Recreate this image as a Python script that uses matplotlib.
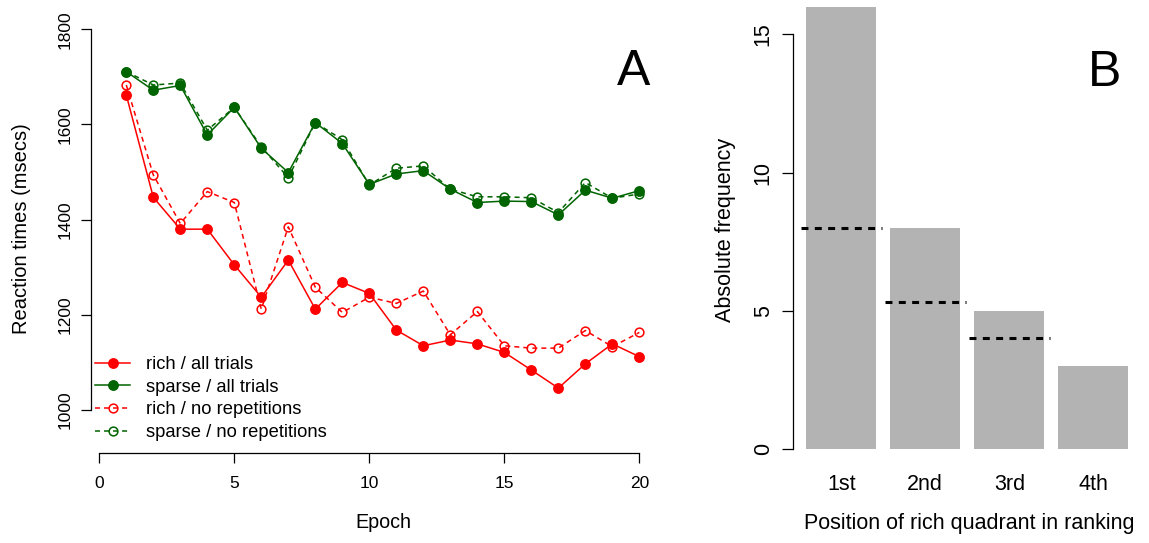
import matplotlib
matplotlib.use("Agg")
import matplotlib.pyplot as plt
import numpy as np

plt.rcParams['font.family'] = ['Liberation Sans', 'DejaVu Sans']
plt.rcParams['lines.scale_dashes'] = False

# panel A: mean reaction times per epoch
epochs = list(range(1, 21))
rich_all = [1662, 1447, 1380, 1380, 1305, 1237, 1315, 1212, 1268, 1245,
            1168, 1135, 1147, 1139, 1121, 1084, 1046, 1097, 1139, 1112]
sparse_all = [1711, 1672, 1682, 1578, 1636, 1550, 1499, 1604, 1560, 1474,
              1496, 1503, 1464, 1436, 1439, 1438, 1410, 1462, 1445, 1461]
rich_norep = [1683, 1494, 1392, 1459, 1436, 1212, 1385, 1258, 1205, 1237,
              1224, 1250, 1158, 1207, 1135, 1130, 1130, 1167, 1133, 1163]
sparse_norep = [1711, 1683, 1687, 1588, 1636, 1553, 1488, 1604, 1568, 1473,
                1508, 1513, 1464, 1448, 1448, 1446, 1415, 1478, 1445, 1454]
series_labels = ['rich / all trials', 'sparse / all trials',
                 'rich / no repetitions', 'sparse / no repetitions']

# panel B: position of rich quadrant
positions = ['1st', '2nd', '3rd', '4th']
counts = [16, 8, 5, 3]
expected = [8, 5.33, 4]

RED = '#FF0000'
GREEN = '#006400'
W, H = 1149, 543

fig = plt.figure(figsize=(W / 100, H / 100), dpi=100)

# ---- panel A
ax = fig.add_axes([90.7 / W, 1 - 453.3 / H, (675 - 90.7) / W, 448.6 / H])
solid = dict(lw=1.1, marker='o', ms=6.8)
dashed = dict(lw=1.1, marker='o', ms=6.3, mfc='none', mew=1.1, dashes=(3.6, 2.9))
ax.plot(epochs, rich_all, color=RED, label=series_labels[0], **solid)
ax.plot(epochs, sparse_all, color=GREEN, label=series_labels[1], **solid)
ax.plot(epochs, rich_norep, color=RED, label=series_labels[2], **dashed)
ax.plot(epochs, sparse_norep, color=GREEN, label=series_labels[3], **dashed)

ax.set_xlim(-0.318, 21.32)
ax.set_ylim(909, 1851.7)
ax.set_xticks([0, 5, 10, 15, 20])
ax.set_yticks([1000, 1200, 1400, 1600, 1800])
for s in ['top', 'right']:
    ax.spines[s].set_visible(False)
ax.spines['left'].set_bounds(1000, 1800)
ax.spines['bottom'].set_bounds(0, 20)
for s in ['left', 'bottom']:
    ax.spines[s].set_linewidth(0.9)
ax.tick_params(length=7.2, width=0.9)
ax.tick_params(axis='x', pad=9.5)
ax.tick_params(axis='y', pad=6.0, labelrotation=90)
for lab in ax.get_xticklabels():
    lab.set_fontsize(12.5)
for lab in ax.get_yticklabels():
    lab.set_fontsize(12.5)
    lab.set_va('center')

ax.legend(loc='upper left', bbox_to_anchor=(95 / W, 1 - 356 / H),
          bbox_transform=fig.transFigure, frameon=False, fontsize=13.2,
          borderpad=0, borderaxespad=0, handlelength=1.91,
          handletextpad=0.85, labelspacing=0.31)

fig.text(383 / W, 1 - 523 / H, 'Epoch', ha='center', va='center', fontsize=14.2)
fig.text(22 / W, 1 - 229 / H, 'Reaction times (msecs)', ha='center', va='center',
         rotation=90, fontsize=14.5)
fig.text(634 / W, 1 - 85 / H, 'A', ha='center', va='baseline', fontsize=36)

# ---- panel B
bx = fig.add_axes([793.4 / W, 1 - 466.7 / H, 347.8 / W, 477.7 / H])
xpos = 0.7 + 1.2 * np.arange(len(counts))
bx.bar(xpos, counts, width=1.0, color='#B3B3B3', edgecolor='none')
for xc, ev in zip(xpos, expected):
    bx.plot([xc - 0.58, xc + 0.58], [ev, ev], color='black', lw=2.2,
            dashes=(5.0, 4.6))
bx.set_xlim(0.016, 4.984)
bx.set_ylim(-0.64, 16.64)
bx.set_xticks(xpos, positions)
bx.set_yticks([0, 5, 10, 15])
for s in ['top', 'right', 'bottom']:
    bx.spines[s].set_visible(False)
bx.spines['left'].set_bounds(0, 15)
bx.spines['left'].set_linewidth(0.9)
bx.tick_params(axis='x', length=0, pad=5.3, labelsize=15.5)
bx.tick_params(axis='y', length=8, width=0.9, pad=6.1, labelsize=15.5,
               labelrotation=90)
for lab in bx.get_yticklabels():
    lab.set_va('center')

fig.text(969.7 / W, 1 - 523.3 / H, 'Position of rich quadrant in ranking',
         ha='center', va='center', fontsize=15.5)
fig.text(725 / W, 1 - 230 / H, 'Absolute frequency', ha='center', va='center',
         rotation=90, fontsize=15.5)
fig.text(1104.5 / W, 1 - 86 / H, 'B', ha='center', va='baseline', fontsize=36)

fig.savefig('out.png', dpi=100)
